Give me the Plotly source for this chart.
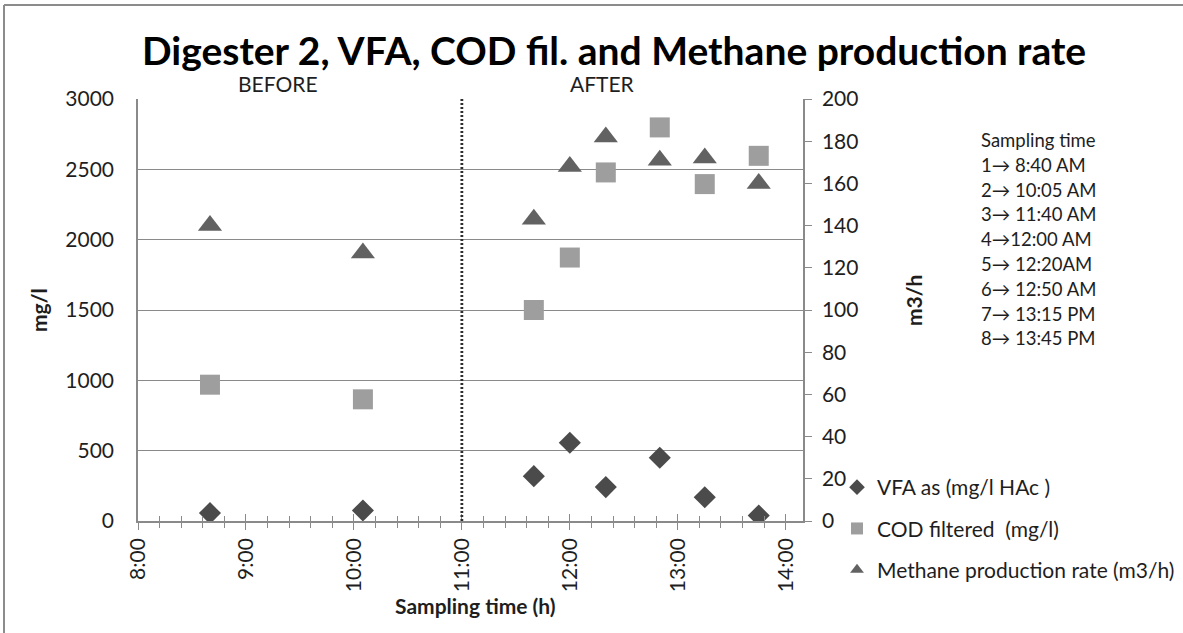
import pandas as pd
import plotly.graph_objects as go

# Sampling times (clock time) and measured values
sample_times = ["08:40", "10:05", "11:40", "12:00", "12:20", "12:50", "13:15", "13:45"]
vfa_mg_l = [56, 75, 319, 556, 241, 450, 169, 39]
cod_filtered_mg_l = [969, 865, 1500, 1873, 2478, 2798, 2395, 2596]
methane_m3_h = [140, 127, 143, 168, 182, 171, 172, 160]

sampling_notes = ["Sampling time", "1\u2192 8:40 AM", "2\u2192 10:05 AM", "3\u2192 11:40 AM",
                  "4\u219212:00 AM", "5\u2192 12:20AM", "6\u2192 12:50 AM", "7\u2192 13:15 PM",
                  "8\u2192 13:45 PM"]

day = "2000-01-01 "
times = pd.to_datetime([day + t for t in sample_times])
split_time = pd.Timestamp(day + "11:00")

FONT = "Lato"
TXT = "#1e1e1e"
GRID = "#8a8a8a"

W_FIG, H_FIG = 1183, 633
L, R, T, B = 138, 380, 99, 112
PW = W_FIG - L - R
PH = H_FIG - T - B


def px_x(p):
    return (p - L) / PW


def px_y(p):
    return (H_FIG - B - p) / PH


fig = go.Figure()
fig.add_trace(go.Scatter(
    x=times, y=vfa_mg_l, mode="markers", name="VFA as (mg/l HAc )",
    legendgroup="g1",
    marker=dict(symbol="diamond", size=17, color="#4b4b4b"),
))
fig.add_trace(go.Scatter(
    x=times, y=cod_filtered_mg_l, mode="markers", name="COD filtered  (mg/l)",
    legendgroup="g2",
    marker=dict(symbol="square", size=20, color="#9e9e9e"),
))
fig.add_trace(go.Scatter(
    x=times, y=methane_m3_h, mode="markers", name="Methane production rate (m3/h)",
    legendgroup="g3", yaxis="y2",
    marker=dict(symbol="triangle-up", size=21, color="#626262"),
))

annotations = [
    dict(text="<b>Digester 2, VFA, COD fil. and Methane production rate</b>",
         x=px_x(614), y=px_y(50), font=dict(size=39, color="#000")),
    dict(text="BEFORE", x=px_x(278), y=px_y(83), font=dict(size=21, color=TXT)),
    dict(text="AFTER", x=px_x(602), y=px_y(83), font=dict(size=21, color=TXT)),
    dict(text="<b>mg/l</b>", x=px_x(38), y=px_y(310), textangle=-90,
         font=dict(size=21, color=TXT)),
    dict(text="<b>m3/h</b>", x=px_x(913), y=px_y(301), textangle=-90,
         font=dict(size=21, color=TXT)),
    dict(text="<b>Sampling time (h)</b>", x=px_x(475), y=px_y(605),
         font=dict(size=21, color=TXT)),
]
for i, line in enumerate(sampling_notes):
    annotations.append(dict(text=line, x=px_x(979), y=px_y(140 + 24.8 * i), xanchor="left",
                            font=dict(size=18.5, color=TXT)))
for a in annotations:
    a.update(xref="paper", yref="paper", showarrow=False)
    a.setdefault("xanchor", "center")
    a.setdefault("yanchor", "middle")

shapes = [
    # dotted divider between the before / after periods
    dict(type="line", xref="x", yref="y domain", x0=split_time, x1=split_time, y0=0, y1=1,
         line=dict(color="#2e2e2e", width=2.8, dash="2px,2px")),
    # chart frame (left and top edges)
    dict(type="line", xref="paper", yref="paper", x0=px_x(4), x1=px_x(4),
         y0=px_y(H_FIG), y1=px_y(5), line=dict(color="#8c8c8c", width=2), layer="below"),
    dict(type="line", xref="paper", yref="paper", x0=px_x(4), x1=px_x(W_FIG),
         y0=px_y(5), y1=px_y(5), line=dict(color="#8c8c8c", width=2), layer="below"),
]

x_range = [pd.Timestamp(day + "08:00"), pd.Timestamp(day + "14:09:36")]

fig.update_layout(
    width=W_FIG, height=H_FIG,
    margin=dict(l=L, r=R, t=T, b=B, autoexpand=False),
    paper_bgcolor="white", plot_bgcolor="white",
    font=dict(family=FONT, color=TXT, size=21),
    showlegend=True,
    legend=dict(x=px_x(837), y=px_y(467), xanchor="left", yanchor="top",
                font=dict(size=21, color=TXT), itemsizing="constant",
                tracegroupgap=11, bgcolor="rgba(0,0,0,0)"),
    xaxis=dict(
        type="date", range=x_range, dtick=3600000, tick0=day + "08:00",
        tickformat="%-H:%M", tickangle=-90, tickfont=dict(size=21, color=TXT),
        ticks="outside", ticklen=7, tickcolor=GRID, tickwidth=1,
        minor=dict(dtick=720000, ticks="outside", ticklen=5, tickcolor=GRID),
        showline=True, linecolor=GRID, linewidth=1.5, showgrid=False, zeroline=False,
    ),
    xaxis2=dict(
        type="date", range=x_range, dtick=3600000, tick0=day + "08:00",
        overlaying="x", matches="x", showticklabels=False,
        ticks="inside", ticklen=7, tickcolor=GRID, tickwidth=1,
        minor=dict(dtick=720000, ticks="inside", ticklen=5, tickcolor=GRID),
        showgrid=False, zeroline=False, anchor="y",
    ),
    yaxis=dict(
        range=[0, 3000], dtick=500, showgrid=True, gridcolor=GRID, gridwidth=1,
        showline=True, linecolor=GRID, linewidth=1.5, zeroline=False,
        tickfont=dict(size=21, color=TXT), ticks="", ticklabelstandoff=18,
    ),
    yaxis2=dict(
        range=[0, 200], dtick=20, overlaying="y", side="right", showgrid=False,
        showline=True, linecolor=GRID, linewidth=1.5, zeroline=False,
        ticks="outside", ticklen=7, tickcolor=GRID, ticklabelstandoff=6,
        tickfont=dict(size=21, color=TXT),
    ),
    annotations=annotations,
    shapes=shapes,
)

# invisible trace that carries the second x axis (for crossing tick marks)
fig.add_trace(go.Scatter(x=[times[0]], y=[None], xaxis="x2", showlegend=False,
                         hoverinfo="skip", mode="markers"))

fig.write_html("out.html")
